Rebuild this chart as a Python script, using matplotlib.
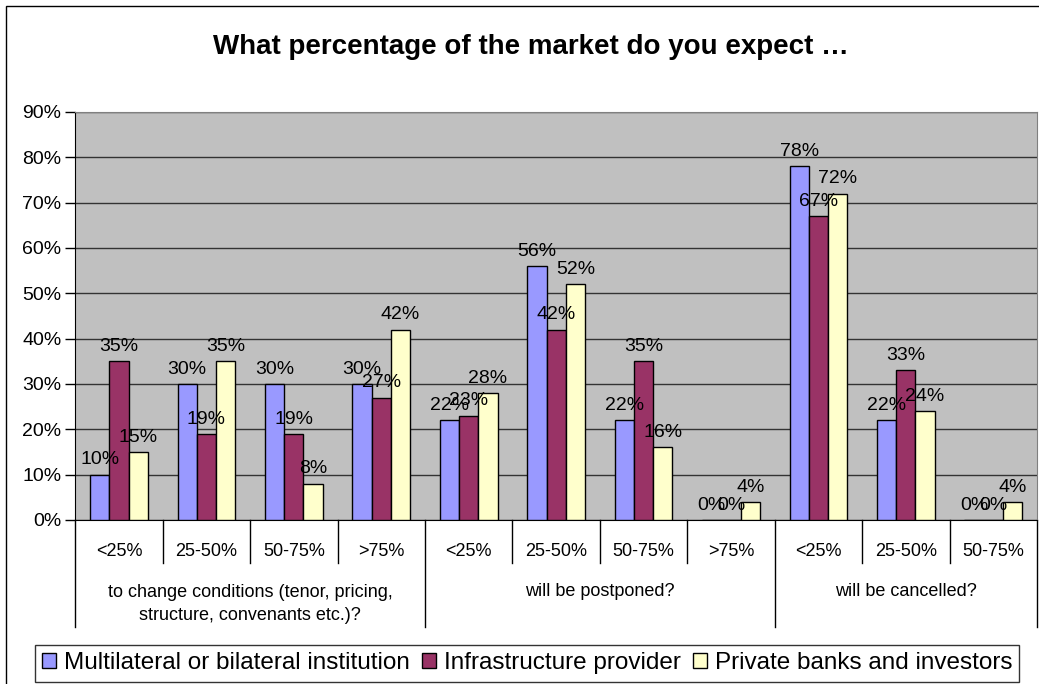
import numpy as np
import matplotlib
matplotlib.use('Agg')
import matplotlib.pyplot as plt
from matplotlib.patches import Rectangle
import matplotlib.transforms as mtransforms

plt.rcParams['font.family'] = ['Liberation Sans', 'DejaVu Sans']

##données
sub_labels = ['<25%', '25-50%', '50-75%', '>75%',
              '<25%', '25-50%', '50-75%', '>75%',
              '<25%', '25-50%', '50-75%']
group_labels = ['to change conditions (tenor, pricing,\nstructure, convenants etc.)?',
                'will be postponed?',
                'will be cancelled?']
group_sizes = [4, 4, 3]
series_names = ['Multilateral or bilateral institution',
                'Infrastructure provider',
                'Private banks and investors']
multilateral = [10, 30, 30, 30, 22, 56, 22, 0, 78, 22, 0]
infrastructure = [35, 19, 19, 27, 23, 42, 35, 0, 67, 33, 0]
private = [15, 35, 8, 42, 28, 52, 16, 4, 72, 24, 4]
colors = ['#9999FF', '#993366', '#FFFFCC']

##figure
fig = plt.figure(figsize=(10.39, 6.84), dpi=100)
ax = fig.add_axes([0.0725, 0.2398, 0.9255, 0.5965])

x = np.arange(len(sub_labels))
w = 0.22
for k, (vals, c, name) in enumerate(zip([multilateral, infrastructure, private], colors, series_names)):
    pos = x + (k - 1) * w
    ax.bar(pos, vals, width=w, color=c, edgecolor='black', linewidth=1, label=name, zorder=3)
    for xp, v in zip(pos, vals):
        ax.annotate('%d%%' % v, (xp, v), xytext=(0, 4.5), textcoords='offset points',
                    ha='center', va='bottom', fontsize=14, zorder=4)

ax.set_xlim(-0.5, len(sub_labels) - 0.5)
ax.set_ylim(0, 90)
ax.set_yticks(range(0, 91, 10))
ax.set_yticklabels(['%d%%' % t for t in range(0, 91, 10)], fontsize=14)
ax.tick_params(axis='y', length=7, width=1, color='black', pad=3)
ax.set_facecolor('#C0C0C0')
ax.grid(axis='y', color='#333333', linewidth=1, zorder=0)
ax.set_axisbelow(True)
for s in ['top', 'right']:
    ax.spines[s].set_color('#808080')
for s in ['left', 'bottom']:
    ax.spines[s].set_color('black')

# axe x hiérarchique
ax.set_xticks([])
trans = mtransforms.blended_transform_factory(ax.transData, ax.transAxes)
h = 408.0  # hauteur de l'axe en pixels
for i, lab in enumerate(sub_labels):
    ax.text(i, -32 / h, lab, transform=trans, ha='center', va='center', fontsize=13)
bounds = np.cumsum([0] + group_sizes) - 0.5
for b in np.arange(-0.5, len(sub_labels), 1.0):
    if b in bounds:
        ax.plot([b, b], [0, -107 / h], transform=trans, color='black', lw=1, clip_on=False)
    else:
        ax.plot([b, b], [0, -43 / h], transform=trans, color='black', lw=1, clip_on=False)
for g, lab in enumerate(group_labels):
    center = (bounds[g] + bounds[g + 1]) / 2
    if '\n' in lab:
        ax.text(center, -84 / h, lab, transform=trans, ha='center', va='center', fontsize=13, linespacing=1.4)
    else:
        ax.text(center, -72 / h, lab, transform=trans, ha='center', va='center', fontsize=13)

# titre
fig.text(531 / 1039, 1 - 47 / 684, 'What percentage of the market do you expect \u2026',
         ha='center', va='center', fontsize=20, fontweight='bold')

# cadre du graphique
fig.patches.append(Rectangle((5.7 / 1039, -0.1), 1.2, 1.1 - 6 / 684, transform=fig.transFigure,
                             fill=False, edgecolor='black', linewidth=1))

# légende
leg = fig.legend(loc='upper center', bbox_to_anchor=(527 / 1039, 1 - 645 / 684), ncol=3, fontsize=17.5,
                 frameon=True, fancybox=False, edgecolor='black', handlelength=0.6,
                 handleheight=0.6, handletextpad=0.3, columnspacing=0.5, borderpad=0.3,
                 borderaxespad=0)
leg.get_frame().set_linewidth(1)

fig.savefig('out.png', dpi=100)
